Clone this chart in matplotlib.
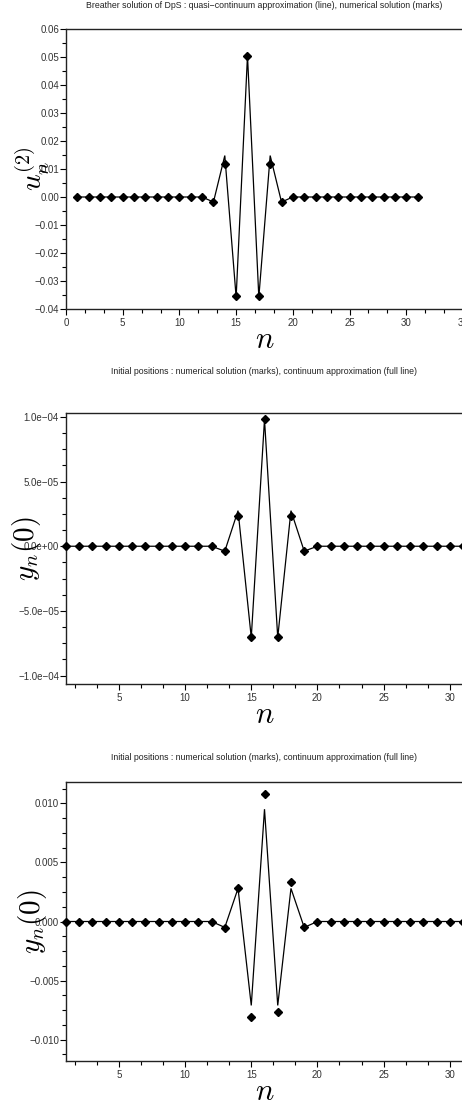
import matplotlib
matplotlib.use("Agg")
import matplotlib.pyplot as plt
from matplotlib.ticker import MultipleLocator, FuncFormatter

plt.rcParams['font.family'] = ['Liberation Sans', 'DejaVu Sans']
plt.rcParams['mathtext.fontset'] = 'cm'

# ---- data ----
n_sites = list(range(1, 32))

u2_line = [0, 0, 0, 0, 0, 0, 0, 0, 0, 0, 0, 0,
           -0.0018, 0.0148, -0.0358, 0.0505, -0.0358, 0.0148, -0.0018,
           0, 0, 0, 0, 0, 0, 0, 0, 0, 0, 0, 0]
u2_marks = [0, 0, 0, 0, 0, 0, 0, 0, 0, 0, 0, 0,
            -0.0018, 0.0119, -0.0354, 0.0505, -0.0354, 0.0119, -0.0018,
            0, 0, 0, 0, 0, 0, 0, 0, 0, 0, 0, 0]

y0a_line = [0, 0, 0, 0, 0, 0, 0, 0, 0, 0, 0, 0,
            -3.8e-6, 2.75e-5, -7.05e-5, 9.8e-5, -7.05e-5, 2.75e-5, -3.8e-6,
            0, 0, 0, 0, 0, 0, 0, 0, 0, 0, 0, 0]
y0a_marks = [0, 0, 0, 0, 0, 0, 0, 0, 0, 0, 0, 0,
             -3.8e-6, 2.35e-5, -7.05e-5, 9.8e-5, -7.05e-5, 2.35e-5, -3.8e-6,
             0, 0, 0, 0, 0, 0, 0, 0, 0, 0, 0, 0]

y0b_line = [0, 0, 0, 0, 0, 0, 0, 0, 0, 0, 0, 0,
            -0.0005, 0.0028, -0.0071, 0.0095, -0.0071, 0.0028, -0.0005,
            0, 0, 0, 0, 0, 0, 0, 0, 0, 0, 0, 0]
y0b_marks = [0, 0, 0, 0, 0, 0, 0, 0, 0, 0, 0, 0,
             -0.00056, 0.00284, -0.00809, 0.01077, -0.00764, 0.00332, -0.0005,
             0, 0, 0, 0, 0, 0, 0, 0, 0, 0, 0, 0]

titles = ["Breather solution of DpS : quasi\u2212continuum approximation (line), numerical solution (marks)",
          "Initial positions : numerical solution (marks), continuum approximation (full line)",
          "Initial positions : numerical solution (marks), continuum approximation (full line)"]
ylabels = [r'$u_n^{(2)}$', r'$y_n(0)$', r'$y_n(0)$']

W, H = 462, 1105
fig = plt.figure(figsize=(W / 100, H / 100), dpi=100)


def px_axes(left, top, right, bottom):
    return fig.add_axes([left / W, 1 - bottom / H, (right - left) / W, (bottom - top) / H])


def fmt_fixed(d):
    return FuncFormatter(lambda v, p: f"{v:.{d}f}".replace('-', '\u2212') if abs(v) > 1e-12 else f"{0:.{d}f}")


def fmt_sci(v, p):
    if abs(v) < 1e-15:
        return "0.0e+00"
    return f"{v:.1e}".replace('-', '\u2212')


def style(ax):
    ax.spines['right'].set_visible(False)
    for s in ['left', 'bottom', 'top']:
        ax.spines[s].set_linewidth(1.0)
        ax.spines[s].set_color('#222222')
    ax.tick_params(which='major', direction='out', length=4, width=0.8,
                   labelsize=7, labelcolor='#333333', pad=1.0)
    ax.tick_params(which='minor', direction='out', length=3, width=0.8)
    ax.tick_params(axis='x', which='major', pad=2.5)
    ax.xaxis.set_minor_locator(MultipleLocator(5 / 3))


specs = [
    dict(box=(66, 29, 463, 309), xlim=(0, 35), ylim=(-0.04, 0.06), line=u2_line, marks=u2_marks,
         major=0.01, minor=0.005, fmt=fmt_fixed(2), ylc=-0.035, title_y=6),
    dict(box=(66, 413, 463, 684), xlim=(1, 31), ylim=(-1.065e-4, 1.03e-4), line=y0a_line, marks=y0a_marks,
         major=5e-5, minor=1.25e-5, fmt=FuncFormatter(fmt_sci), ylc=-0.058, title_y=372),
    dict(box=(66, 782, 463, 1061), xlim=(1, 31), ylim=(-0.0118, 0.0118), line=y0b_line, marks=y0b_marks,
         major=0.005, minor=0.00125, fmt=fmt_fixed(3), ylc=-0.043, title_y=757),
]

for i, sp in enumerate(specs):
    ax = px_axes(*sp['box'])
    ax.plot(n_sites, sp['line'], color='black', lw=0.9, solid_joinstyle='miter', zorder=2)
    ax.plot(n_sites, sp['marks'], linestyle='none', marker='D', ms=4.3, color='black',
            clip_on=False, zorder=3)
    ax.set_xlim(*sp['xlim'])
    ax.set_ylim(*sp['ylim'])
    ax.xaxis.set_major_locator(MultipleLocator(5))
    ax.yaxis.set_major_locator(MultipleLocator(sp['major']))
    ax.yaxis.set_minor_locator(MultipleLocator(sp['minor']))
    ax.yaxis.set_major_formatter(sp['fmt'])
    style(ax)
    ax.set_xlabel(r'$n$', fontsize=22)
    ax.xaxis.set_label_coords(0.5, -16 / (sp['box'][3] - sp['box'][1]))
    ax.set_ylabel(ylabels[i], fontsize=21)
    ax.yaxis.set_label_coords(sp['ylc'], 0.5)
    fig.text(264 / W, 1 - sp['title_y'] / H, titles[i], ha='center', va='center',
             fontsize=6.3, color='#222222')

fig.savefig('out.png', dpi=100)
